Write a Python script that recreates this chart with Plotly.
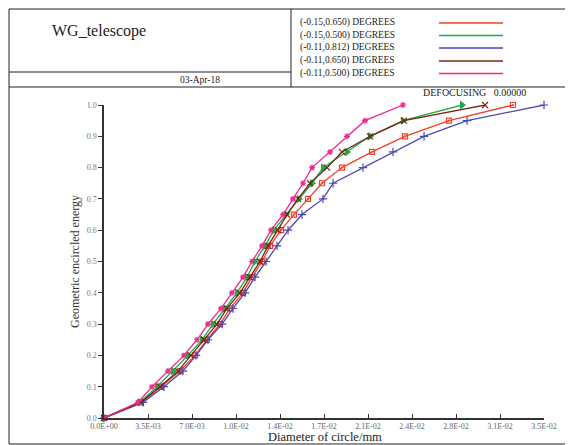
import plotly.graph_objects as go

# ---- data ----
energy = [0.0, 0.05, 0.10, 0.15, 0.20, 0.25, 0.30, 0.35, 0.40, 0.45, 0.50,
          0.55, 0.60, 0.65, 0.70, 0.75, 0.80, 0.85, 0.90, 0.95, 1.0]

d_m015_0650 = [0.0, 0.00294, 0.00453, 0.00605, 0.00724, 0.00819, 0.00923, 0.01002, 0.01106, 0.01177, 0.01257,
               0.01321, 0.01408, 0.01511, 0.01623, 0.01734, 0.01893, 0.02132, 0.02394, 0.02744, 0.03253]
d_m015_0500 = [0.0, 0.00286, 0.00422, 0.00549, 0.00668, 0.00780, 0.00867, 0.00963, 0.01058, 0.01138, 0.01201,
               0.01281, 0.01352, 0.01448, 0.01551, 0.01655, 0.01742, 0.01933, 0.02116, 0.02378, 0.02848]
d_m011_0812 = [0.0, 0.00310, 0.00477, 0.00628, 0.00732, 0.00827, 0.00939, 0.01026, 0.01122, 0.01201, 0.01289,
               0.01376, 0.01464, 0.01575, 0.01742, 0.01822, 0.02060, 0.02299, 0.02546, 0.02888, 0.03500]
d_m011_0650 = [0.0, 0.00294, 0.00446, 0.00589, 0.00692, 0.00796, 0.00899, 0.00978, 0.01082, 0.01161, 0.01241,
               0.01305, 0.01384, 0.01456, 0.01543, 0.01639, 0.01774, 0.01893, 0.02116, 0.02386, 0.03031]
d_m011_0500 = [0.0, 0.00270, 0.00382, 0.00509, 0.00636, 0.00740, 0.00827, 0.00931, 0.01018, 0.01106, 0.01177,
               0.01257, 0.01328, 0.01424, 0.01503, 0.01583, 0.01655, 0.01798, 0.01933, 0.02076, 0.02378]

series_names = ["(-0.15,0.650) DEGREES", "(-0.15,0.500) DEGREES", "(-0.11,0.812) DEGREES",
                "(-0.11,0.650) DEGREES", "(-0.11,0.500) DEGREES"]
series_data = [d_m015_0650, d_m015_0500, d_m011_0812, d_m011_0650, d_m011_0500]
series_colors = ["#f2402a", "#22a84a", "#4c48b0", "#7a2418", "#ee2a8c"]
series_symbols = ["square-open-dot", "triangle-right", "cross-thin-open", "x-thin-open", "asterisk-open"]
series_sizes = [5, 6, 6, 6, 5]

x_tickvals = [0.0, 0.0035, 0.007, 0.0105, 0.014, 0.0175, 0.021, 0.0245, 0.028, 0.0315, 0.035]
x_ticktext = ["0.0E+00", "3.5E-03", "7.0E-03", "1.0E-02", "1.4E-02", "1.7E-02",
              "2.1E-02", "2.4E-02", "2.8E-02", "3.1E-02", "3.5E-02"]
y_tickvals = [0.0, 0.1, 0.2, 0.3, 0.4, 0.5, 0.6, 0.7, 0.8, 0.9, 1.0]

title_text = "WG_telescope"
date_text = "03-Apr-18"
defocus_text = "DEFOCUSING   0.00000"
x_title = "Diameter of circle/mm"
y_title = "Geometric encircled energy"

# ---- layout geometry (page pixels; page body has an 8px margin) ----
OFF = 8
W, H = 573 - OFF, 445 - OFF
L, R, T, B = 104, 544, 105, 418
FONT = "Liberation Serif, Times New Roman, serif"


def px(x):
    return (x - L) / (R - L)


def py(y):
    return (B - y) / (B - T)


fig = go.Figure()
for name, data, col, sym, sz in zip(series_names, series_data, series_colors, series_symbols, series_sizes):
    fig.add_trace(go.Scatter(
        x=data, y=energy, name=name, mode="lines+markers",
        line=dict(color=col, width=1.3),
        marker=dict(symbol=sym, size=sz, color=col, line=dict(color=col, width=1.2)),
        cliponaxis=False, showlegend=False))

shapes = []
def line(x0, y0, x1, y1, color="#222", width=1):
    shapes.append(dict(type="line", xref="paper", yref="paper",
                       x0=px(x0), y0=py(y0), x1=px(x1), y1=py(y1),
                       line=dict(color=color, width=width)))

# outer frame + header boxes
line(9, 9, 571, 9)
line(9, 9, 9, 444)
line(571, 9, 571, 444)
line(9, 444, 571, 444)
line(9, 87, 571, 87)
line(291, 9, 291, 87)
line(9, 72, 291, 72)

annotations = []
def text(x, y, s, size, anchor="left", color="#222", angle=0):
    annotations.append(dict(xref="paper", yref="paper", x=px(x), y=py(y), text=s,
                            showarrow=False, xanchor=anchor, yanchor="middle", textangle=angle,
                            font=dict(family=FONT, size=size, color=color)))

text(50, 31, title_text, 16)
text(200, 80, date_text, 9.5, anchor="center")
legend_y = [23, 35.5, 48, 61, 73.5]
for name, col, yy in zip(series_names, series_colors, legend_y):
    text(298, yy, name, 9.5)
    line(439, yy, 503, yy, color=col, width=1.5)
text(528, 93, defocus_text, 10, anchor="right")
text(325, 437, x_title, 12.5, anchor="center")
text(75, 262, y_title, 12, anchor="center", color="#333", angle=-90)

fig.update_layout(
    width=W, height=H,
    margin=dict(l=L - OFF, r=573 - R, t=T - OFF, b=445 - B, pad=0, autoexpand=False),
    paper_bgcolor="white", plot_bgcolor="white",
    shapes=shapes, annotations=annotations,
    font=dict(family=FONT, color="#222"),
    xaxis=dict(range=[0, 0.035], tickvals=x_tickvals, ticktext=x_ticktext, automargin=False,
               showgrid=False, zeroline=False, showline=True, linecolor="#333", linewidth=1.5,
               ticks="inside", ticklen=4, tickcolor="#333",
               tickfont=dict(family=FONT, size=8, color="#666")),
    yaxis=dict(range=[0, 1.0], tickvals=y_tickvals, tickformat=".1f", automargin=False,
               showgrid=False, zeroline=False, showline=True, linecolor="#333", linewidth=1.5,
               ticks="outside", ticklen=4, tickcolor="#333",
               tickfont=dict(family=FONT, size=8, color="#777")),
)

fig.write_html("out.html")
